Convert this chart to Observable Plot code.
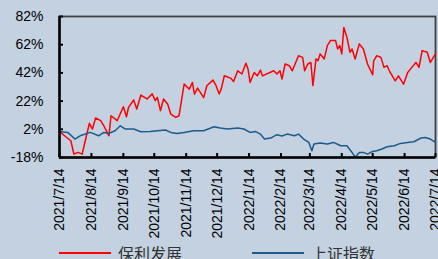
<!DOCTYPE html>
<html><head><meta charset="utf-8">
<script src="https://cdn.jsdelivr.net/npm/d3@7"></script>
<script src="https://cdn.jsdelivr.net/npm/@observablehq/plot@0.6"></script>
<style>
html,body{margin:0;padding:0;background:#C3D1E0;width:438px;height:259px;overflow:hidden;font-family:"Liberation Sans",Arial,sans-serif}
#chart{position:absolute;top:0;left:0}
#legend{position:absolute;top:243px;left:0;width:438px;height:20px;font-family:"Noto Sans CJK SC",sans-serif;font-size:16px;color:#333}
.item{position:absolute;top:0;height:20px;display:flex;align-items:center}
.sw{display:inline-block;width:52px;height:2px;margin-right:7px}
</style></head><body><div id="chart"></div><div id="legend"></div>
<script>
// days since 2021-07-14 and cumulative return (%)
const seriesNames = ["保利发展", "上证指数"];
const seriesColors = ["#FF0000", "#1B5B8C"];
const redDays = [0,7,11,14,18,22,25,29,32,35,40,43,48,50,56,62,65,67,72,75,79,85,90,93,95,98,101,105,108,113,116,121,126,129,131,134,140,143,149,152,155,157,160,166,169,173,177,181,183,185,189,192,195,197,208,211,214,216,219,223,226,232,236,238,241,244,246,249,251,253,257,260,263,268,270,272,274,276,279,282,284,287,291,295,299,304,305,308,312,315,318,321,326,329,334,338,342,346,349,352,357,360,365];
const redValues = [0.3,-3.8,-6.1,-15.6,-14.4,-15.6,-6.1,6.2,2.2,10,8.1,4.5,-2.6,11.6,8.1,18,10.9,17.5,22.8,16.4,26.3,23.5,27.1,22.3,24.6,15.2,23.5,20,12.8,10.4,11.6,34.1,30.5,35.2,27,31.2,24.5,32.9,36.9,32.9,27,30.5,40,38.3,35.9,43.5,41.2,48.8,44.8,35.2,42.3,39.9,44,39.9,43.5,41.2,43.5,37.6,48.3,47.1,43.5,54.2,53,43.5,48.3,49.4,33,51.9,50.7,55.5,51.9,61.4,64.9,64.9,59,61.4,55.5,74.2,67.3,56.6,59,51.9,62.6,59,48.3,40.7,50.6,54.2,53,45.9,47.1,42.3,36.4,39.9,34,42.3,45.9,49.4,45.9,57.8,56.6,49.4,55.5];
const blueDays = [0,8,15,20,30,38,43,48,54,59,64,72,79,88,95,103,108,114,121,130,140,150,156,163,173,179,185,190,195,199,205,211,216,221,228,232,237,242,245,247,253,260,266,273,279,284,287,291,295,299,304,308,313,318,325,331,338,344,351,355,360,365];
const blueValues = [0.5,-0.2,-4.9,-2.6,-0.2,-2.6,-0.2,-0.9,1,4.5,2.2,2.2,0.3,0.5,1,1.5,-0.2,-0.9,-0.2,1,1,3.8,2.9,2.2,2.9,2.2,-0.2,0.5,-1.4,-4.9,-4.2,-1.8,-2.8,-1.4,-2.6,-1.4,-4.9,-7.3,-13.2,-8.4,-7.7,-8.4,-7.3,-9.7,-9.7,-14.4,-17.8,-14.4,-14.4,-15.6,-13.7,-13.2,-12,-10.4,-9.7,-8,-7.3,-6.8,-4.2,-3.8,-4.9,-7.3];
const yTicks = [-18, 2, 22, 42, 62, 82];
const xTickLabels = ["2021/7/14","2021/8/14","2021/9/14","2021/10/14","2021/11/14","2021/12/14","2022/1/14","2022/2/14","2022/3/14","2022/4/14","2022/5/14","2022/6/14","2022/7/14"];

const start = new Date(Date.UTC(2021, 6, 14));
const toDate = n => d3.utcDay.offset(start, n);
const parseLabel = s => { const [y, m, d] = s.split("/").map(Number); return new Date(Date.UTC(y, m - 1, d)); };
const xTicks = xTickLabels.map(parseLabel);
const fmt = d => `${d.getUTCFullYear()}/${d.getUTCMonth() + 1}/${d.getUTCDate()}`;

const data = [
  ...redDays.map((d, i) => ({date: toDate(d), value: redValues[i], s: seriesNames[0]})),
  ...blueDays.map((d, i) => ({date: toDate(d), value: blueValues[i], s: seriesNames[1]}))
];

const chart = Plot.plot({
  width: 438, height: 240,
  marginLeft: 59, marginRight: 3, marginTop: 16, marginBottom: 83,
  style: {background: "transparent", fontSize: "14px", fontFamily: "'Liberation Sans', Arial, sans-serif", color: "#000"},
  x: {type: "utc", domain: [xTicks[0], xTicks[xTicks.length - 1]]},
  y: {domain: [-18, 82]},
  color: {domain: seriesNames, range: seriesColors},
  marks: [
    Plot.frame({stroke: "#404040", strokeWidth: 1.8}),
    Plot.line(data, {x: "date", y: "value", z: "s", stroke: "s", strokeWidth: 1.5}),
    Plot.axisY({ticks: yTicks, tickFormat: d => d + "%", tickSize: -4, tickPadding: 20, strokeWidth: 2, label: null}),
    Plot.axisX({ticks: xTicks, tickFormat: fmt, tickRotate: -90, tickSize: -4, tickPadding: 15, strokeWidth: 2, label: null}),
    Plot.ruleY([-18], {stroke: "#000", strokeWidth: 2.5}),
    Plot.ruleX([xTicks[0]], {stroke: "#000", strokeWidth: 2.5})
  ]
});
document.getElementById("chart").appendChild(chart);

const legend = document.getElementById("legend");
const pos = [59, 252];
seriesNames.forEach((n, i) => {
  const it = document.createElement("div");
  it.className = "item";
  it.style.left = pos[i] + "px";
  const sw = document.createElement("span");
  sw.className = "sw";
  sw.style.backgroundColor = seriesColors[i];
  const tx = document.createElement("span");
  tx.textContent = n;
  it.appendChild(sw);
  it.appendChild(tx);
  legend.appendChild(it);
});
</script></body></html>
